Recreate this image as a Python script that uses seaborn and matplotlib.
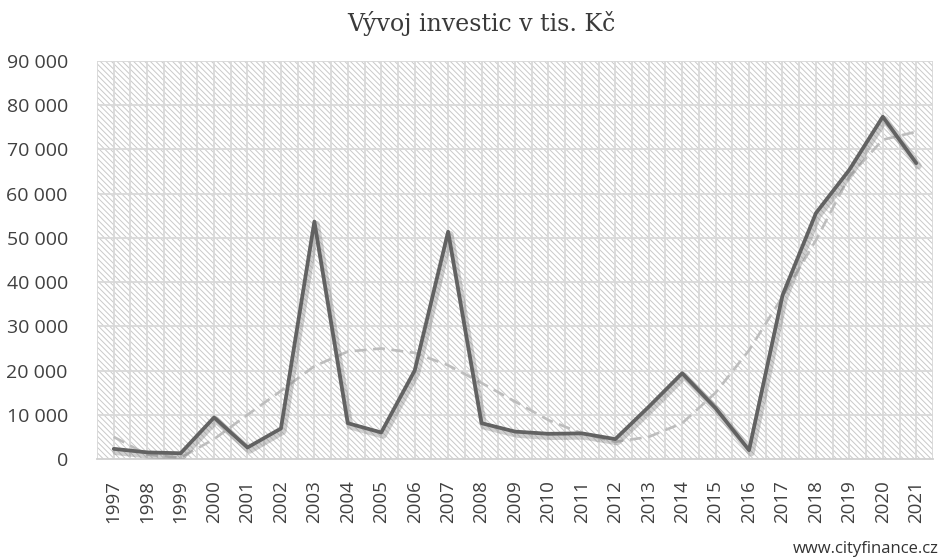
import numpy as np
import pandas as pd
import matplotlib
matplotlib.use("Agg")
import matplotlib.pyplot as plt
import matplotlib.patheffects as pe
from matplotlib.patches import Rectangle
from matplotlib.ticker import FuncFormatter, MultipleLocator
import seaborn as sns

# data (tis. Kc)
years = [str(y) for y in range(1997, 2022)]
investice = [2300, 1500, 1300, 9400, 2600, 6900, 53700, 8100, 6000, 20000,
             51400, 8100, 6200, 5700, 5800, 4500, 11800, 19400, 11500, 2000,
             37000, 55600, 65400, 77400, 66900]
# polynomial trend line as drawn in the original
trend = [5000, 1000, 300, 4500, 10000, 15400, 21000, 24300, 25000, 24000,
         21200, 17200, 13000, 8800, 5800, 3900, 5000, 8100, 15000, 24600,
         36700, 49500, 63900, 72200, 74000]

df = pd.DataFrame({"idx": np.arange(len(years)), "rok": years,
                   "investice": investice, "trend": trend})

sns.set_style("white")
plt.rcParams["font.family"] = ["Open Sans", "DejaVu Sans"]
plt.rcParams["hatch.linewidth"] = 0.7
plt.rcParams["hatch.color"] = "#c9c9c9"

fig = plt.figure(figsize=(9.42, 5.58), dpi=100)
ax = fig.add_axes([0.103, 0.1774, 0.8874, 0.7133])

# hatched plot background
ax.add_patch(Rectangle((0, 0), 1, 1, transform=ax.transAxes, facecolor="white",
                       edgecolor="#c9c9c9", hatch="\\\\\\\\\\\\", lw=0, zorder=0))

grid = "#d9d9d9"
for yv in range(10000, 90001, 10000):
    ax.axhline(yv, color=grid, lw=1.3, zorder=1)
for xv in np.arange(-0.5, len(years), 0.5):
    ax.axvline(xv, color=grid, lw=1.3, zorder=1)

sns.lineplot(data=df, x="idx", y="trend", ax=ax, color="#bdbdbd", lw=1.9,
             dashes=False, zorder=3)
ax.lines[-1].set_dashes([4.5, 2.5])
sns.lineplot(data=df, x="idx", y="investice", ax=ax, color="#626262", lw=2.7,
             zorder=4,
             path_effects=[pe.SimpleLineShadow(offset=(1.5, -2), shadow_color="#777777",
                                               alpha=0.35, linewidth=5),
                           pe.Normal()])

ax.set_xlim(-0.5, len(years) - 0.5)
ax.set_ylim(0, 90000)
ax.yaxis.set_major_locator(MultipleLocator(10000))
ax.yaxis.set_major_formatter(FuncFormatter(lambda v, p: f"{v:,.0f}".replace(",", " ")))
ax.set_xticks(df["idx"])
ax.set_xticklabels(years, rotation=90)
ax.tick_params(axis="y", length=0, pad=21, labelsize=14, labelcolor="#404040")
ax.tick_params(axis="x", length=0, pad=15, labelsize=13.5, labelcolor="#404040")
ax.set_xlabel("")
ax.set_ylabel("")
for s in ["left", "right", "top"]:
    ax.spines[s].set_visible(False)
ax.spines["bottom"].set_color("#d0d0d0")
ax.spines["bottom"].set_linewidth(1.3)

fig.text(0.511, 0.958, "Vývoj investic v tis. Kč", ha="center", va="center",
         fontsize=17, color="#3a3a3a", family=["DejaVu Serif"])
fig.text(0.996, 0.017, "www.cityfinance.cz", ha="right", va="center",
         fontsize=12, color="#333333")

fig.savefig("out.png", dpi=100)
